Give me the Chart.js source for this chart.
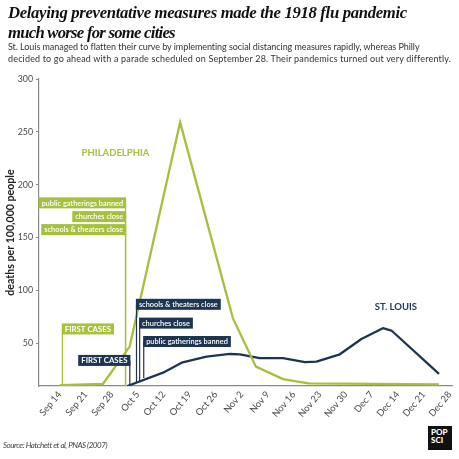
<!DOCTYPE html>
<html><head><meta charset="utf-8">
<script src="https://cdn.jsdelivr.net/npm/chart.js@4.4.0/dist/chart.umd.min.js"></script>
<style>
html,body{margin:0;padding:0;background:#fff;}
#wrap{position:relative;width:459px;height:459px;overflow:hidden;background:#fff;}
#c{position:absolute;left:0;top:0;}
.t{position:absolute;white-space:nowrap;}
#title{left:8px;top:3px;font:bold italic 16.7px/19.5px "Liberation Serif";color:#111;}
#title .l1{letter-spacing:-0.33px;}
#title .l2{letter-spacing:-0.75px;}
#sub{left:8px;top:41px;font:9px/11.7px Lato;color:#333;}
#sub .l1{letter-spacing:-0.06px;}
#sub .l2{letter-spacing:0.17px;}
#src{left:3px;top:440px;font:italic 8px Lato;color:#444;letter-spacing:-0.45px;}
#logo{left:428px;top:426px;width:24px;height:24px;background:#111;}
#logo span{position:absolute;left:3px;top:3px;color:#fff;font:900 8px/7.6px Lato;}
</style></head>
<body><div id="wrap">
<canvas id="c" width="459" height="459"></canvas>
<div class="t" id="title"><span class="l1">Delaying preventative measures made the 1918 flu pandemic</span><br><span class="l2">much worse for some cities</span></div>
<div class="t" id="sub"><span class="l1">St. Louis managed to flatten their curve by implementing social distancing measures rapidly, whereas Philly</span><br><span class="l2">decided to go ahead with a parade scheduled on September 28. Their pandemics turned out very differently.</span></div>
<div class="t" id="src">Source: Hatchett et al, PNAS (2007)</div>
<div class="t" id="logo"><span>POP<br>SCI</span></div>
</div>
<script>
// ---- data (days counted from Sep 14, 1918) ----
const weekLabels = ['Sep 14','Sep 21','Sep 28','Oct 5','Oct 12','Oct 19','Oct 26','Nov 2','Nov 9','Nov 16','Nov 23','Nov 30','Dec 7','Dec 14','Dec 21','Dec 28'];
const weekDays = [0,7,14,21,28,35,42,49,56,63,70,77,84,91,98,105];
const yTicks = [50,100,150,200,250,300];

const phillyDays   = [0, 11.6, 18.8, 32.4, 46.6, 52.8, 60.1, 66.9, 102.1];
const phillyDeaths = [10.4, 11.4, 46.8, 259, 73.7, 27.8, 16.1, 12, 11];

const stlDays   = [18.2, 27.8, 32.8, 39.5, 45.8, 48.5, 53.8, 60.1, 66.0, 69.1, 75.4, 81.2, 87.0, 89.3, 102.1];
const stlDeaths = [9.5, 22.1, 31.6, 37.3, 39.8, 39.4, 35.8, 35.8, 32.0, 32.5, 39.5, 54.0, 64.2, 62.0, 20.9];

// annotations: text, day of event, label level (deaths scale), end of leader line
const phillyNoteTexts  = ['FIRST CASES','public gatherings banned','churches close','schools & theaters close'];
const phillyNoteDays   = [0.7, 17.7, 17.7, 17.7];
const phillyNoteLevels = [63.5, 182.8, 169.8, 157.5];
const phillyNoteEnds   = [10.4, 9.5, 9.5, 9.5];
const phillyNoteSides  = ['right','left','left','left'];

const stlNoteTexts  = ['FIRST CASES','schools & theaters close','churches close','public gatherings banned'];
const stlNoteDays   = [18.85, 20.65, 21.5, 22.6];
const stlNoteLevels = [33.7, 86.8, 69.0, 51.6];
const stlNoteEnds   = [9.5, 12.7, 13.6, 17.1];
const stlNoteSides  = ['left','right','right','right'];

const seriesNames = ['PHILADELPHIA','ST. LOUIS'];
const seriesNameDays = [15.0, 90.5];
const seriesNameLevels = [229.9, 84.4];

const GREEN = '#a5c13c';
const NAVY = '#1e3552';

const notes = [];
phillyNoteTexts.forEach((t,i)=>notes.push({text:t, day:phillyNoteDays[i], level:phillyNoteLevels[i], end:phillyNoteEnds[i], side:phillyNoteSides[i], color:GREEN, caps:i===0}));
stlNoteTexts.forEach((t,i)=>notes.push({text:t, day:stlNoteDays[i], level:stlNoteLevels[i], end:stlNoteEnds[i], side:stlNoteSides[i], color:NAVY, caps:i===0}));

const notePlugin = {
  id:'notes',
  afterDatasetsDraw(chart){
    const ctx = chart.ctx, x = chart.scales.x, y = chart.scales.y;
    notes.forEach(n=>{
      ctx.save();
      ctx.font = n.caps ? '700 7.8px Lato' : '600 7.4px Lato';
      const tw = ctx.measureText(n.text).width;
      const padX = 3, h = 11;
      const lx = x.getPixelForValue(n.day);
      const cy = y.getPixelForValue(n.level);
      const w = tw + 2*padX;
      const bx = n.side === 'right' ? lx - 0.6 : lx - w + 0.6;
      ctx.strokeStyle = n.color; ctx.lineWidth = 1.2;
      ctx.beginPath(); ctx.moveTo(lx, cy); ctx.lineTo(lx, y.getPixelForValue(n.end)); ctx.stroke();
      ctx.fillStyle = n.color;
      ctx.fillRect(bx, cy - h/2, w, h);
      ctx.fillStyle = '#fff'; ctx.textBaseline = 'middle'; ctx.textAlign = 'left';
      ctx.fillText(n.text, bx + padX, cy + 0.5);
      ctx.restore();
    });
    ctx.save();
    ctx.font = '700 9.5px Lato';
    ctx.textAlign = 'center'; ctx.textBaseline = 'middle';
    seriesNames.forEach((s,i)=>{
      ctx.fillStyle = i===0 ? GREEN : NAVY;
      ctx.fillText(s, x.getPixelForValue(seriesNameDays[i]), y.getPixelForValue(seriesNameLevels[i]));
    });
    ctx.restore();
  }
};

function draw(){
  new Chart(document.getElementById('c'), {
    type:'line',
    data:{
      datasets:[
        {label:'Philadelphia', data:phillyDays.map((d,i)=>({x:d,y:phillyDeaths[i]})), borderColor:GREEN, borderWidth:2.3, pointRadius:0, tension:0, borderJoinStyle:'miter', fill:false},
        {label:'St. Louis', data:stlDays.map((d,i)=>({x:d,y:stlDeaths[i]})), borderColor:NAVY, borderWidth:2.3, pointRadius:0, tension:0, borderJoinStyle:'round', fill:false}
      ]
    },
    options:{
      responsive:false, animation:false,
      layout:{padding:{left:0, top:79, right:7, bottom:33}},
      plugins:{legend:{display:false}, tooltip:{enabled:false}},
      scales:{
        x:{type:'linear', min:-5.6, max:105.6,
          afterBuildTicks:s=>{ s.ticks = weekDays.map(v=>({value:v})); },
          afterFit:s=>{ s.height = 40; s.paddingRight = 0; s.paddingLeft = 0; },
          ticks:{autoSkip:false, maxRotation:50, minRotation:50, padding:3, color:'#4a4a4a', font:{family:'Lato', size:9.4},
            callback:(v,i)=>weekLabels[i]},
          grid:{display:false, drawTicks:false},
          border:{display:true, color:'#8a8a8a', width:1.2}
        },
        y:{min:9.5, max:300,
          afterBuildTicks:s=>{ s.ticks = yTicks.map(v=>({value:v})); },
          afterFit:s=>{ s.width = 39; },
          ticks:{padding:3, color:'#4a4a4a', font:{family:'Lato', size:8.8}},
          grid:{drawOnChartArea:false, drawTicks:true, tickLength:3, color:'#8a8a8a'},
          border:{display:true, color:'#8a8a8a', width:1.2},
          title:{display:true, text:'deaths per 100,000 people', color:'#222', font:{family:'Lato', size:10.6, weight:'bold'}, padding:{top:4, bottom:0}}
        }
      }
    },
    plugins:[notePlugin]
  });
}
if (document.fonts && document.fonts.load) {
  Promise.all([document.fonts.load('700 10px Lato'), document.fonts.load('600 8px Lato'), document.fonts.load('10px Lato')]).then(draw, draw);
} else draw();
</script>
</body></html>
